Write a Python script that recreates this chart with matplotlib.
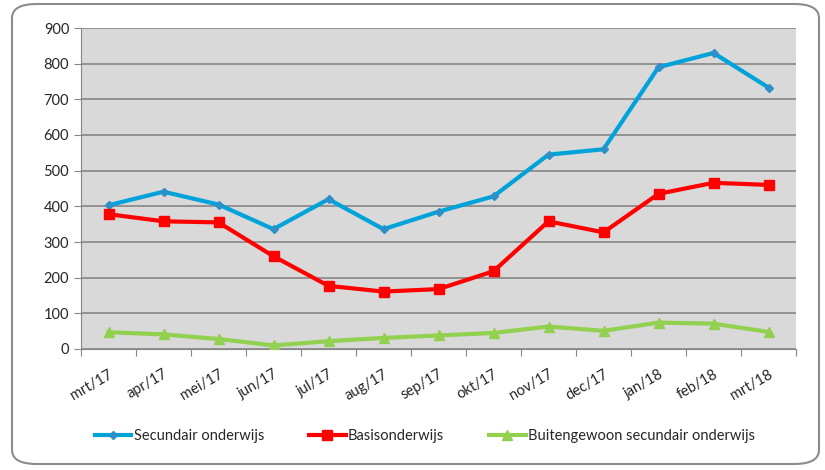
import matplotlib
matplotlib.use("Agg")
import matplotlib.pyplot as plt
from matplotlib.patches import FancyBboxPatch

# ── Data ──────────────────────────────────────────────────────────────────────
months = ["mrt/17", "apr/17", "mei/17", "jun/17", "jul/17", "aug/17", "sep/17",
          "okt/17", "nov/17", "dec/17", "jan/18", "feb/18", "mrt/18"]
secundair = [403, 441, 405, 336, 420, 336, 385, 428, 545, 560, 790, 830, 733]
basis = [378, 358, 355, 260, 177, 161, 168, 218, 358, 327, 435, 466, 460]
buitengewoon = [47, 41, 28, 10, 22, 31, 38, 45, 63, 51, 74, 71, 48]

BLUE = "#00A2DA"
RED = "#FF0000"
GREEN = "#92D050"
PLOT_BG = "#D9D9D9"
GRID = "#868686"
TEXT = "#262626"

plt.rcParams["font.family"] = ["Lato", "DejaVu Sans"]

fig = plt.figure(figsize=(8.25, 4.7), dpi=100)
W, H = 825, 470

# Rounded outer frame (behind the axes)
frame = FancyBboxPatch((12 / W, 6 / H), 807 / W, 460 / H,
                       boxstyle="round,pad=0,rounding_size=0.03",
                       transform=fig.transFigure, facecolor="white",
                       edgecolor="#8C8C8C", linewidth=1.5, zorder=-5)
fig.patches.append(frame)

ax = fig.add_axes([81 / W, 1 - 349 / H, 715 / W, 321 / H])
ax.set_zorder(2)
ax.set_facecolor(PLOT_BG)

x = range(len(months))
ax.plot(x, secundair, color=BLUE, lw=3, marker="D", ms=4.5,
        markerfacecolor="#2E8FC9", markeredgecolor="#2E8FC9",
        label="Secundair onderwijs", zorder=4)
ax.plot(x, basis, color=RED, lw=3, marker="s", ms=7,
        label="Basisonderwijs", zorder=4)
ax.plot(x, buitengewoon, color=GREEN, lw=3, marker="^", ms=7,
        label="Buitengewoon secundair onderwijs", zorder=4)

ax.set_xlim(-0.5, len(months) - 0.5)
ax.set_ylim(0, 900)
ax.set_yticks(range(0, 901, 100))
ax.set_xticks([i - 0.5 for i in range(len(months) + 1)], minor=False)
ax.set_xticklabels([])
ax.set_xticks(list(x), minor=True)
ax.set_xticklabels(months, minor=True, rotation=30, ha="right",
                   rotation_mode="anchor", fontsize=10.5, color=TEXT)
ax.tick_params(axis="x", which="minor", length=0, pad=13)
ax.tick_params(axis="x", which="major", length=5, color=GRID, direction="out")
ax.tick_params(axis="y", length=5, color=GRID, labelsize=10.5, labelcolor=TEXT)

ax.grid(axis="y", color=GRID, linewidth=1.2, zorder=1)
ax.set_axisbelow(True)
for side in ("top", "right"):
    ax.spines[side].set_visible(False)
ax.spines["left"].set_color(GRID)
ax.spines["bottom"].set_color(GRID)

fig.legend(loc="center", bbox_to_anchor=(0.515, 1 - 436 / H), ncol=3,
           frameon=False, fontsize=10.5, handlelength=2.5, handletextpad=0.15,
           columnspacing=3.1, labelcolor=TEXT)

fig.savefig("out.png", dpi=100)
